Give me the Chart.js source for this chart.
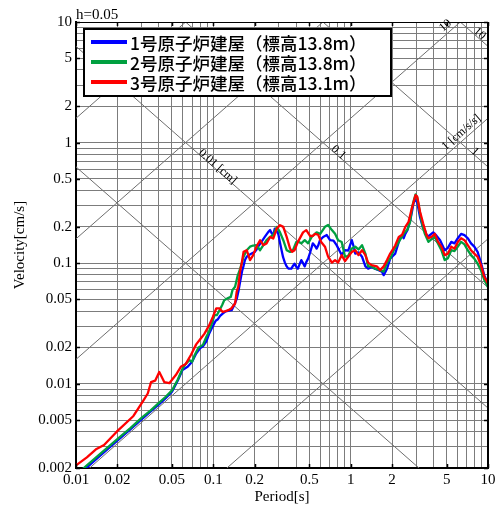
<!DOCTYPE html>
<html>
<head>
<meta charset="utf-8">
<script src="https://cdn.jsdelivr.net/npm/chart.js@4.4.1/dist/chart.umd.min.js"></script>
<style>
  html, body { margin: 0; padding: 0; background: #fff; }
  #wrap { width: 495px; height: 507px; }
</style>
</head>
<body>
<div id="wrap"><canvas id="spectrum" width="495" height="507"></canvas></div>
<script>
// ---- Velocity response spectra (h = 0.05), period [s] vs velocity [cm/s] ----
const seriesLabels = [
  '1号原子炉建屋（標高13.8m）',
  '2号原子炉建屋（標高13.8m）',
  '3号原子炉建屋（標高13.1m）'
];
const seriesColors = ['#0000ff', '#00a040', '#ff0000'];

const periodsUnit1 = [0.01,0.012,0.015,0.02,0.025,0.03,0.035,0.04,0.045,0.05,0.055,0.0596,0.065,0.07,0.075,0.08,0.084,0.089,0.093,0.099,0.104,0.108,0.112,0.117,0.123,0.13,0.136,0.142,0.148,0.153,0.157,0.162,0.166,0.17,0.175,0.182,0.19,0.2,0.206,0.212,0.224,0.237,0.25,0.259,0.266,0.273,0.28,0.29,0.297,0.305,0.314,0.322,0.332,0.342,0.352,0.37,0.38,0.39,0.4,0.413,0.425,0.437,0.45,0.463,0.475,0.49,0.506,0.53,0.55,0.565,0.58,0.598,0.63,0.67,0.708,0.75,0.79,0.82,0.86,0.91,0.96,1.02,1.05,1.08,1.14,1.21,1.28,1.34,1.42,1.5,1.6,1.69,1.74,1.84,1.94,2.02,2.11,2.2,2.29,2.37,2.43,2.5,2.59,2.71,2.8,2.87,2.97,3.05,3.2,3.35,3.47,3.6,3.75,3.99,4.2,4.48,4.84,5.1,5.4,5.7,6.03,6.37,6.74,7.12,7.52,7.95,8.4,8.88,9.38,10];
const velocityUnit1 = [0.00168,0.00202,0.00253,0.00337,0.0042,0.00505,0.0059,0.0067,0.0076,0.0086,0.0106,0.013,0.0138,0.0152,0.0178,0.0197,0.0204,0.0225,0.0258,0.0299,0.0333,0.0343,0.0365,0.0382,0.0398,0.0404,0.0407,0.045,0.0505,0.06,0.071,0.086,0.095,0.106,0.113,0.117,0.12,0.124,0.129,0.137,0.15,0.165,0.18,0.188,0.177,0.171,0.193,0.184,0.175,0.15,0.128,0.112,0.101,0.094,0.09,0.09,0.095,0.099,0.094,0.09,0.098,0.106,0.1,0.094,0.102,0.109,0.122,0.146,0.139,0.132,0.14,0.155,0.165,0.171,0.155,0.154,0.141,0.13,0.117,0.128,0.127,0.155,0.138,0.12,0.123,0.113,0.094,0.09,0.093,0.09,0.0875,0.085,0.0795,0.09,0.109,0.114,0.12,0.14,0.161,0.17,0.161,0.175,0.188,0.225,0.27,0.315,0.338,0.32,0.24,0.2,0.188,0.165,0.17,0.18,0.17,0.155,0.128,0.134,0.15,0.146,0.161,0.175,0.171,0.161,0.146,0.137,0.124,0.101,0.0795,0.067];

const periodsUnit2 = [0.01,0.012,0.015,0.02,0.025,0.03,0.035,0.04,0.045,0.05,0.055,0.06,0.063,0.067,0.07,0.0735,0.078,0.084,0.089,0.093,0.096,0.102,0.106,0.111,0.116,0.12,0.128,0.134,0.138,0.144,0.15,0.157,0.166,0.175,0.185,0.195,0.206,0.219,0.23,0.244,0.259,0.273,0.29,0.306,0.323,0.342,0.362,0.38,0.402,0.42,0.437,0.463,0.49,0.52,0.565,0.6,0.65,0.685,0.73,0.77,0.81,0.86,0.91,0.96,1.02,1.08,1.14,1.21,1.28,1.34,1.42,1.5,1.64,1.74,1.84,1.94,2.06,2.24,2.43,2.59,2.71,2.8,2.9,2.97,3.05,3.2,3.35,3.47,3.68,3.88,4.1,4.33,4.58,4.84,5.11,5.4,5.7,6.03,6.37,6.74,7.12,7.52,7.95,8.4,8.88,9.38,10];
const velocityUnit2 = [0.00175,0.0021,0.00262,0.00347,0.0043,0.0052,0.006,0.0069,0.0078,0.0088,0.0108,0.0135,0.0146,0.0157,0.0152,0.0175,0.02,0.021,0.0245,0.027,0.0299,0.037,0.037,0.0407,0.045,0.0493,0.0513,0.0525,0.06,0.0638,0.078,0.09,0.113,0.128,0.137,0.14,0.141,0.128,0.14,0.155,0.165,0.171,0.2,0.18,0.155,0.128,0.124,0.128,0.15,0.15,0.146,0.155,0.146,0.165,0.18,0.175,0.2,0.207,0.188,0.175,0.155,0.15,0.113,0.115,0.132,0.137,0.13,0.141,0.12,0.094,0.094,0.09,0.0875,0.085,0.101,0.109,0.128,0.15,0.175,0.19,0.22,0.29,0.34,0.372,0.35,0.26,0.2,0.175,0.15,0.158,0.165,0.145,0.128,0.106,0.11,0.128,0.126,0.137,0.15,0.143,0.128,0.1165,0.109,0.099,0.0875,0.073,0.063];

const periodsUnit3 = [0.01,0.012,0.0141,0.016,0.0198,0.0262,0.0306,0.0333,0.0352,0.0377,0.0404,0.044,0.0478,0.0533,0.058,0.063,0.0688,0.075,0.081,0.086,0.093,0.099,0.105,0.111,0.117,0.123,0.13,0.135,0.144,0.148,0.152,0.1565,0.161,0.166,0.175,0.185,0.195,0.206,0.219,0.231,0.244,0.259,0.273,0.29,0.306,0.323,0.342,0.362,0.375,0.39,0.413,0.45,0.475,0.506,0.53,0.55,0.58,0.61,0.65,0.685,0.73,0.77,0.81,0.86,0.91,0.96,1.02,1.08,1.14,1.21,1.28,1.34,1.42,1.55,1.64,1.74,1.84,1.94,2.11,2.24,2.37,2.5,2.64,2.8,2.97,3.05,3.2,3.37,3.57,3.68,3.88,4.1,4.33,4.58,4.84,5.11,5.4,5.7,6.03,6.37,6.74,7.12,7.52,7.95,8.4,8.88,9.38,10];
const velocityUnit3 = [0.0021,0.00245,0.00288,0.0031,0.004,0.0054,0.0071,0.0083,0.0103,0.0106,0.0125,0.0103,0.0101,0.0118,0.0138,0.0146,0.0174,0.0212,0.0237,0.0259,0.0303,0.0356,0.0421,0.0421,0.0394,0.04,0.041,0.0421,0.0463,0.058,0.0638,0.085,0.1,0.124,0.128,0.106,0.1165,0.137,0.155,0.141,0.1455,0.165,0.16,0.194,0.2066,0.2,0.165,0.132,0.124,0.128,0.15,0.18,0.188,0.168,0.168,0.175,0.172,0.15,0.137,0.113,0.101,0.106,0.101,0.1165,0.104,0.113,0.124,0.128,0.1165,0.128,0.1165,0.101,0.0962,0.094,0.0875,0.094,0.106,0.12,0.14,0.165,0.172,0.2,0.22,0.29,0.367,0.357,0.267,0.214,0.171,0.161,0.165,0.175,0.15,0.137,0.1165,0.12,0.137,0.132,0.15,0.161,0.155,0.141,0.128,0.12,0.113,0.0962,0.0774,0.068];

// Tick labels on both axes
const periodTickLabels = [0.01, 0.02, 0.05, 0.1, 0.2, 0.5, 1, 2, 5, 10];
const velocityTickLabels = [0.002, 0.005, 0.01, 0.02, 0.05, 0.1, 0.2, 0.5, 1, 2, 5, 10];

// Tripartite guide lines: constant displacement [cm] and constant acceleration [cm/s/s]
const displacementLines = [0.001, 0.01, 0.1, 1, 10];
const accelerationLines = [0.1, 1, 10, 100, 1000];
const guideLabels = [
  { kind: 'disp', value: 0.01, text: '0.01 [cm]', at: 0.104, lift: 3 },
  { kind: 'disp', value: 0.1,  text: '0.1',       at: 0.79,  lift: 3 },
  { kind: 'disp', value: 1,    text: '1',         at: 7.8,   lift: 3 },
  { kind: 'disp', value: 10,   text: '10',        at: 8.3,   lift: 4 },
  { kind: 'acc',  value: 1,    text: '1 [cm/s/s]', at: 6.9,  lift: 7 },
  { kind: 'acc',  value: 10,   text: '10',        at: 5.3,   lift: 7 }
];
const dampingText = 'h=0.05';

const TWO_PI = 2 * Math.PI;
const PERIOD_MIN = 0.01, PERIOD_MAX = 10;
const VEL_MIN = 0.002, VEL_MAX = 10;

function guideVelocity(kind, value, T) {
  return kind === 'disp' ? TWO_PI * value / T : value * T / TWO_PI;
}

function logGrid(min, max) {
  const out = [];
  for (let e = -4; e <= 2; e++) {
    for (let m = 1; m <= 9; m++) {
      const v = +(m * Math.pow(10, e)).toPrecision(6);
      if (v >= min * 0.9999 && v <= max * 1.0001) out.push(v);
    }
  }
  return out;
}
function labelFor(list, value) {
  const hit = list.find(l => Math.abs(l - value) / l < 1e-6);
  return hit === undefined ? '' : String(hit);
}

const guideDatasets = [];
displacementLines.forEach(d => guideDatasets.push({
  data: [PERIOD_MIN, PERIOD_MAX].map(T => ({ x: T, y: guideVelocity('disp', d, T) })),
  borderColor: '#6e6e6e', borderWidth: 1, pointRadius: 0, order: 10
}));
accelerationLines.forEach(a => guideDatasets.push({
  data: [PERIOD_MIN, PERIOD_MAX].map(T => ({ x: T, y: guideVelocity('acc', a, T) })),
  borderColor: '#6e6e6e', borderWidth: 1, pointRadius: 0, order: 10
}));

const seriesPeriods = [periodsUnit1, periodsUnit2, periodsUnit3];
const seriesValues = [velocityUnit1, velocityUnit2, velocityUnit3];
const seriesDatasets = seriesLabels.map((label, i) => ({
  label,
  data: seriesPeriods[i].map((T, k) => ({ x: T, y: seriesValues[i][k] })),
  borderColor: seriesColors[i],
  borderWidth: 2.3,
  pointRadius: 0,
  tension: 0,
  order: 3 - i
}));

const serif = "'Liberation Serif', 'Times New Roman', serif";

const overlay = {
  id: 'overlay',
  afterDatasetsDraw(chart) {
    const { ctx, chartArea: a, scales: { x, y } } = chart;
    ctx.save();
    // guide line captions
    ctx.fillStyle = '#000';
    ctx.font = '12px ' + serif;
    ctx.textAlign = 'center';
    ctx.textBaseline = 'middle';
    guideLabels.forEach(g => {
      const px = x.getPixelForValue(g.at);
      const py = y.getPixelForValue(guideVelocity(g.kind, g.value, g.at));
      const qx = x.getPixelForValue(g.at * 1.2);
      const qy = y.getPixelForValue(guideVelocity(g.kind, g.value, g.at * 1.2));
      const ang = Math.atan2(qy - py, qx - px);
      ctx.save();
      ctx.beginPath();
      ctx.rect(a.left, a.top - 8, a.right - a.left, a.bottom - a.top + 8);
      ctx.clip();
      ctx.translate(px, py);
      ctx.rotate(ang);
      ctx.fillText(g.text, 0, -g.lift);
      ctx.restore();
    });

    // frame: top and right edges
    ctx.strokeStyle = '#000';
    ctx.lineWidth = 1;
    ctx.beginPath();
    ctx.moveTo(a.left, a.top + 0.5); ctx.lineTo(a.right, a.top + 0.5);
    ctx.stroke();
    ctx.lineWidth = 2;
    ctx.beginPath();
    ctx.moveTo(a.right, a.top); ctx.lineTo(a.right, a.bottom + 1);
    ctx.stroke();

    // short inward tick marks at labelled values
    ctx.lineWidth = 1.5;
    ctx.beginPath();
    periodTickLabels.forEach(v => {
      const px = Math.round(x.getPixelForValue(v)) + 0.5;
      ctx.moveTo(px, a.bottom); ctx.lineTo(px, a.bottom - 4);
      ctx.moveTo(px, a.top); ctx.lineTo(px, a.top + 4);
    });
    velocityTickLabels.forEach(v => {
      const py = Math.round(y.getPixelForValue(v)) + 0.5;
      ctx.moveTo(a.left, py); ctx.lineTo(a.left + 4, py);
      ctx.moveTo(a.right, py); ctx.lineTo(a.right - 4, py);
    });
    ctx.stroke();

    // damping note above the plot
    ctx.fillStyle = '#000';
    ctx.font = '15px ' + serif;
    ctx.textAlign = 'left';
    ctx.textBaseline = 'alphabetic';
    ctx.fillText(dampingText, a.left, a.top - 3);

    // legend box
    const lx = a.left + 7, ly = a.top + 6, lw = 309, lh = 69;
    ctx.fillStyle = '#fff';
    ctx.fillRect(lx, ly, lw, lh);
    ctx.strokeStyle = '#000';
    ctx.lineWidth = 2;
    ctx.strokeRect(lx + 1, ly + 1, lw - 2, lh - 2);
    ctx.font = "500 17.5px 'Noto Sans CJK JP', 'Noto Sans', sans-serif";
    ctx.textBaseline = 'middle';
    seriesLabels.forEach((label, i) => {
      const ry = ly + 14 + i * 20;
      ctx.strokeStyle = seriesColors[i];
      ctx.lineWidth = 4;
      ctx.beginPath();
      ctx.moveTo(lx + 8, ry); ctx.lineTo(lx + 44, ry);
      ctx.stroke();
      ctx.fillStyle = '#000';
      ctx.fillText(label, lx + 47, ry + 1);
    });
    ctx.restore();
  }
};

new Chart(document.getElementById('spectrum'), {
  type: 'line',
  data: { datasets: [...seriesDatasets, ...guideDatasets] },
  options: {
    responsive: false,
    animation: false,
    devicePixelRatio: 1,
    layout: { padding: { top: 22, right: 7, left: 0, bottom: 0 } },
    plugins: { legend: { display: false }, tooltip: { enabled: false } },
    elements: { line: { borderCapStyle: 'round', borderJoinStyle: 'round' } },
    scales: {
      x: {
        type: 'logarithmic',
        min: PERIOD_MIN, max: PERIOD_MAX,
        afterBuildTicks: s => { s.ticks = logGrid(PERIOD_MIN, PERIOD_MAX).map(v => ({ value: v })); },
        afterFit: s => { s.height = 39; s.paddingLeft = 0; s.paddingRight = 0; },
        ticks: {
          autoSkip: false, maxRotation: 0, minRotation: 0, padding: 3,
          color: '#000', font: { family: serif, size: 15 },
          callback: v => labelFor(periodTickLabels, v)
        },
        grid: { color: '#7c7c7c', lineWidth: 1, drawTicks: false },
        border: { display: true, color: '#000', width: 2 },
        title: { display: true, text: 'Period[s]', color: '#000', font: { family: serif, size: 15 }, padding: { top: 0, bottom: 1 } }
      },
      y: {
        type: 'logarithmic',
        min: VEL_MIN, max: VEL_MAX,
        afterBuildTicks: s => { s.ticks = logGrid(VEL_MIN, VEL_MAX).map(v => ({ value: v })); },
        afterFit: s => { s.width = 76; s.paddingTop = 0; s.paddingBottom = 0; },
        ticks: {
          autoSkip: false, padding: 4,
          color: '#000', font: { family: serif, size: 15 },
          callback: v => labelFor(velocityTickLabels, v)
        },
        grid: { color: '#7c7c7c', lineWidth: 1, drawTicks: false },
        border: { display: true, color: '#000', width: 2 },
        title: { display: true, text: 'Velocity[cm/s]', color: '#000', font: { family: serif, size: 15 }, padding: { top: 11, bottom: 0 } }
      }
    }
  },
  plugins: [overlay]
});
</script>
</body>
</html>
